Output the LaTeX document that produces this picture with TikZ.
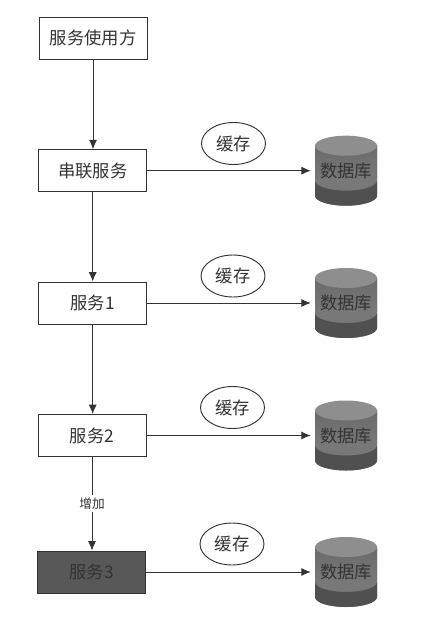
\documentclass[tikz,border=0pt]{standalone}
\usepackage{fontspec}
\setmainfont{Noto Sans CJK SC}
\usetikzlibrary{arrows.meta,shapes.geometric}
\definecolor{ink}{HTML}{333333}
\definecolor{dbtop}{HTML}{8E8E8E}
\definecolor{dbupper}{HTML}{6A6A6A}
\definecolor{dbmid}{HTML}{787878}
\definecolor{dblow}{HTML}{505050}
\definecolor{svcdark}{HTML}{585858}
\tikzset{
  x=0.75pt,y=-0.75pt,
  svc/.style={draw=ink,line width=0.7pt,minimum width=81pt,minimum height=31.5pt,inner sep=0pt,font=\fontsize{13pt}{15pt}\selectfont,text=ink},
  cache/.style={draw=ink,line width=0.7pt,ellipse,minimum width=48pt,minimum height=31.5pt,inner sep=0pt,font=\fontsize{13pt}{15pt}\selectfont,text=ink},
  dbnode/.style={minimum width=46.5pt,minimum height=52.5pt,inner sep=0pt,font=\fontsize{13pt}{15pt}\selectfont,text=black!80},
  flow/.style={draw=ink,line width=0.7pt,-{Latex[length=7pt,width=6pt]}},
}
\newcommand{\dbshape}[3]{% x-centre, y-centre, name
  \begin{scope}[shift={(#1,#2)}]
    \fill[dbmid] (-31,-25) -- (-31,25) arc[start angle=180,end angle=0,x radius=31,y radius=10] -- (31,-25) -- cycle;
    \fill[top color=dbupper,bottom color=dbmid] (-31,-25) rectangle (31,8);
    \fill[dblow] (-31,10) -- (-31,25) arc[start angle=180,end angle=0,x radius=31,y radius=10] -- (31,10) arc[start angle=0,end angle=180,x radius=31,y radius=10] -- cycle;
    \fill[dbtop] (0,-25) ellipse[x radius=31,y radius=10];
  \end{scope}
  \node[dbnode] (#3) at (#1,#2) {数据库};
}
\begin{document}
\begin{tikzpicture}
\useasboundingbox (0,0) rectangle (438,627);
\fill[white] (0,0) rectangle (438,627);
\node[svc] (user) at (93,38) {服务使用方};
\node[svc] (chain) at (92.7,170.7) {串联服务};
\node[svc] (s1) at (92.7,303) {服务1};
\node[svc] (s2) at (92,435.5) {服务2};
\node[svc,fill=svcdark] (s3) at (91.8,572) {服务3};
\dbshape{346}{170.7}{db0}
\dbshape{346}{303}{db1}
\dbshape{346}{435.5}{db2}
\dbshape{346}{572}{db3}
\node[cache] (c0) at (233.5,143.5) {缓存};
\node[cache] (c1) at (233,276) {缓存};
\node[cache] (c2) at (232.5,407.5) {缓存};
\node[cache] (c3) at (232,544) {缓存};
\draw[flow] (user) -- (user |- chain.north);
\draw[flow] (chain) -- (chain |- s1.north);
\draw[flow] (s1) -- (s1 |- s2.north);
\draw[flow] (s2) -- node[fill=white,inner xsep=1pt,inner ysep=2pt,font=\fontsize{9.5pt}{11pt}\selectfont,text=ink] (add) {增加} (s2 |- s3.north);
\draw[flow,shorten >=3pt] (chain) -- (db0);
\draw[flow,shorten >=3pt] (s1) -- (db1);
\draw[flow,shorten >=3pt] (s2) -- (db2);
\draw[flow,shorten >=3pt] (s3) -- (db3);
\end{tikzpicture}
\end{document}
